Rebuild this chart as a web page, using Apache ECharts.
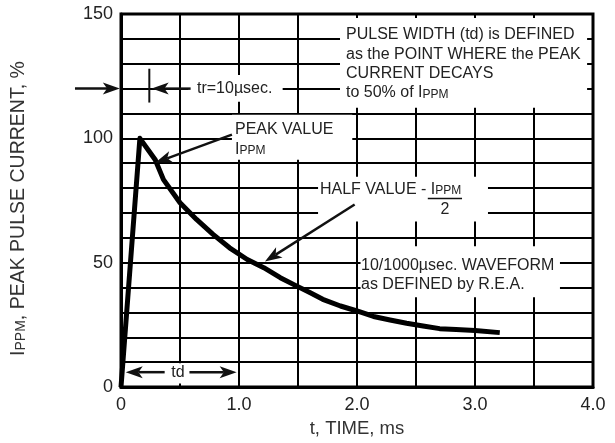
<!DOCTYPE html>
<html>
<head>
<meta charset="utf-8">
<script src="https://cdn.jsdelivr.net/npm/echarts@6/dist/echarts.min.js"></script>
<style>
  html, body { margin: 0; padding: 0; background: #fff; }
  #chart { width: 615px; height: 443px; }
</style>
</head>
<body>
<div id="chart"></div>
<script>
// 10/1000 us pulse waveform
const timeMs     = [0, 0.16, 0.29, 0.36, 0.5, 0.64, 0.78, 0.92, 1.07, 1.21, 1.35, 1.49, 1.6, 1.71, 1.86, 2.0, 2.14, 2.28, 2.42, 2.56, 2.7, 2.84, 3.0, 3.21];
const currentPct = [0, 100,  91.4, 83.4, 74.1, 67.4, 61.4, 56,  51.3, 48,   44,   40.6, 38,  35.3, 32.6, 30.6, 28.4, 27, 25.7, 24.6, 23.5, 23.2, 22.8, 21.9];

const xTickLabels = ['0', '1.0', '2.0', '3.0', '4.0'];
const yTickLabels = ['0', '50', '100', '150'];

const FONT = '"Liberation Sans", Arial, sans-serif';
const INK  = '#222';

const chart = echarts.init(document.getElementById('chart'));

const noteRich = {
    n: { fontSize: 16, fontFamily: FONT, color: INK },
    s: { fontSize: 12, fontFamily: FONT, color: INK, padding: [3, 0, 0, 0] },
};
const nameRich = {
    n: { fontSize: 19.5, fontFamily: FONT, color: '#333' },
    s: { fontSize: 14, fontFamily: FONT, color: '#333', padding: [4, 0, 0, 0] },
};

chart.setOption({
    animation: false,
    grid: { left: 121, right: 22, top: 14, bottom: 55, show: true, borderColor: '#000', borderWidth: 3 },
    xAxis: {
        type: 'value', min: 0, max: 4, interval: 1,
        name: 't, TIME, ms', nameLocation: 'middle', nameGap: 25,
        nameTextStyle: { fontFamily: FONT, fontSize: 18.5, color: '#333' },
        axisLine: { lineStyle: { color: '#000', width: 3 } },
        axisTick: { show: false },
        axisLabel: { fontFamily: FONT, fontSize: 18, color: INK, margin: 9,
                     formatter: v => xTickLabels[Math.round(v)] },
        splitLine: { lineStyle: { color: '#000', width: 2 } },
        minorTick: { show: false, splitNumber: 2 },
        minorSplitLine: { show: true, lineStyle: { color: '#000', width: 2 } },
    },
    yAxis: {
        type: 'value', min: 0, max: 150, interval: 50,
        name: '{n|I}{s|PPM}{n|, PEAK PULSE CURRENT, %}', nameLocation: 'middle', nameGap: 92, nameRotate: 90,
        nameTextStyle: { rich: nameRich, padding: [0, 16, 0, 0] },
        axisLine: { show: true, lineStyle: { color: '#000', width: 3 } },
        axisTick: { show: false },
        axisLabel: { fontFamily: FONT, fontSize: 18, color: INK, margin: 8,
                     formatter: v => yTickLabels[Math.round(v / 50)] },
        splitLine: { lineStyle: { color: '#000', width: 2 } },
        minorTick: { show: false, splitNumber: 5 },
        minorSplitLine: { show: true, lineStyle: { color: '#000', width: 2 } },
    },
    series: [{
        type: 'line',
        data: timeMs.map((t, i) => [t, currentPct[i]]),
        showSymbol: false,
        lineStyle: { color: '#000', width: 5, join: 'round' },
        z: 20,
    }],
});

// annotations, anchored in data coordinates
const px = (t, v) => chart.convertToPixel({ gridIndex: 0 }, [t, v]);

function box(t0, v0, t1, v1) {
    const a = px(t0, v0), b = px(t1, v1);
    return { type: 'rect', z: 10, silent: true,
             shape: { x: a[0], y: a[1], width: b[0] - a[0], height: b[1] - a[1] },
             style: { fill: '#fff' } };
}

function label(t, v, text, align) {
    const p = px(t, v);
    return { type: 'text', z: 30, silent: true, x: p[0], y: p[1],
             style: { text, rich: noteRich, fontFamily: FONT, fontSize: 16, fill: INK,
                      align: align || 'left', verticalAlign: 'middle' } };
}

function arrow(from, to, width) {
    const a = px(from[0], from[1]), b = px(to[0], to[1]);
    const dx = b[0] - a[0], dy = b[1] - a[1];
    const len = Math.hypot(dx, dy), ux = dx / len, uy = dy / len;
    const hl = 17, hw = 6;
    const base  = [b[0] - ux * hl, b[1] - uy * hl];
    const notch = [b[0] - ux * hl * 0.75, b[1] - uy * hl * 0.75];
    return [
        { type: 'line', z: 30, silent: true,
          shape: { x1: a[0], y1: a[1], x2: notch[0], y2: notch[1] },
          style: { stroke: '#111', lineWidth: width || 2.5 } },
        { type: 'polygon', z: 30, silent: true,
          shape: { points: [b, [base[0] - uy * hw, base[1] + ux * hw], notch, [base[0] + uy * hw, base[1] - ux * hw]] },
          style: { fill: '#111' } },
    ];
}

function segment(p0, p1, w) {
    const a = px(p0[0], p0[1]), b = px(p1[0], p1[1]);
    return { type: 'line', z: 30, silent: true,
             shape: { x1: a[0], y1: a[1], x2: b[0], y2: b[1] },
             style: { stroke: '#111', lineWidth: w } };
}

const elements = [
    box(1.856, 148.4, 3.95, 112.3),
    box(0.57, 125.5, 1.37, 114.7),
    box(0.94, 109.5, 1.96, 91.4),
    box(1.67, 84.6, 3.11, 66.6),
    box(2.03, 56.6, 3.72, 36.1),
    box(0.33, 9.6, 0.63, 1.4),

    label(1.907, 141.6, 'PULSE WIDTH (td) is DEFINED'),
    label(1.907, 133.6, 'as the POINT WHERE the PEAK'),
    label(1.907, 125.9, 'CURRENT DECAYS'),
    label(1.907, 118.3, '{n|to 50% of I}{s|PPM}'),

    label(0.644, 120, 'tr=10\u00b5sec.'),

    label(0.966, 103.5, 'PEAK VALUE'),
    label(0.966, 95.5, '{n|I}{s|PPM}'),

    label(1.686, 79.4, '{n|HALF VALUE - I}{s|PPM}'),
    segment([2.60, 75.8], [2.89, 75.8], 1.5),
    label(2.745, 71.2, '2', 'center'),

    label(2.034, 48.9, '10/1000\u00b5sec. WAVEFORM'),
    label(2.034, 41.3, 'as DEFINED by R.E.A.'),

    label(0.483, 6, 'td', 'center'),

    segment([0.24, 128], [0.24, 114.4], 2),
    ...arrow([-0.39, 120], [-0.01, 120], 2.5),
    ...arrow([0.59, 120], [0.26, 120], 2.5),
    ...arrow([0.94, 101.5], [0.29, 90.2], 2.5),
    ...arrow([1.98, 73.4], [1.22, 50.5], 2.5),
    ...arrow([0.37, 6], [0.04, 6], 2.5),
    ...arrow([0.58, 6], [0.98, 6], 2.5),
];

chart.setOption({ graphic: { elements } });
</script>
</body>
</html>
